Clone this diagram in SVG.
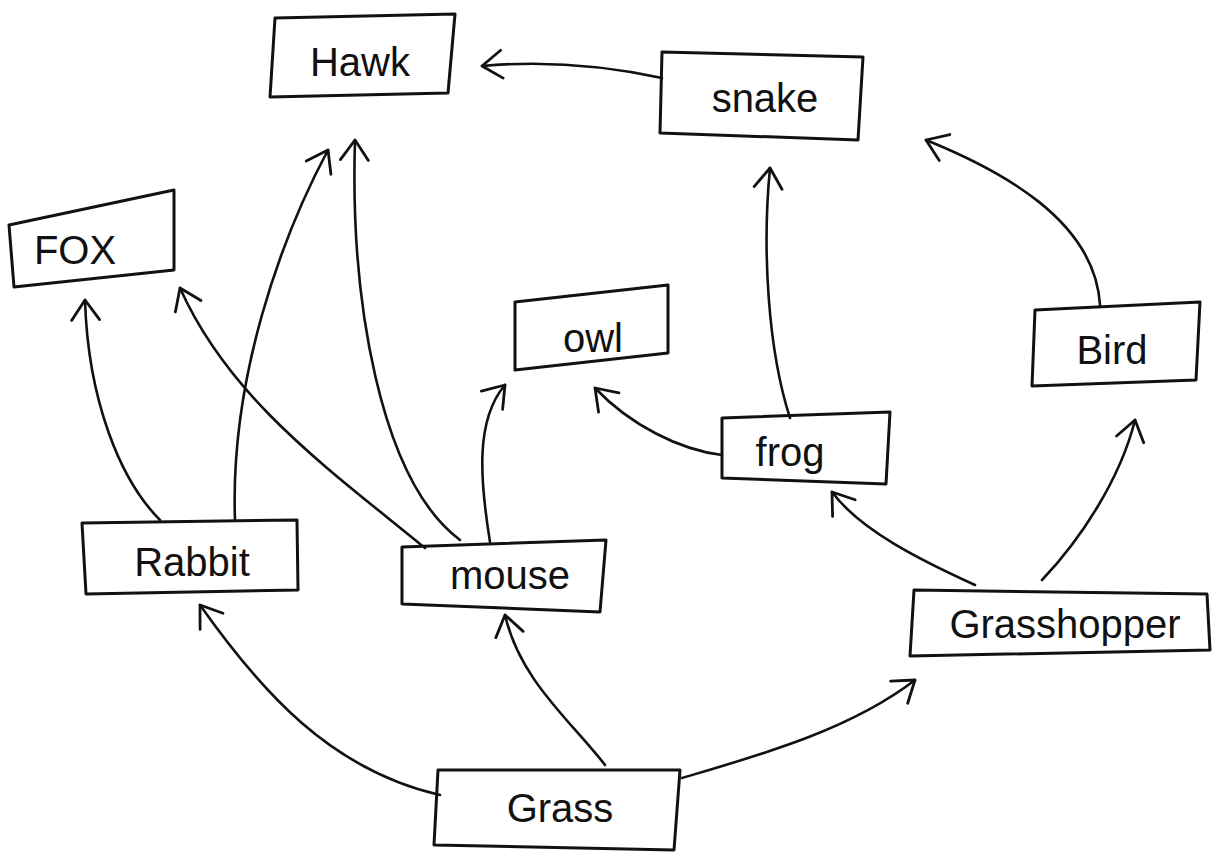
<svg xmlns="http://www.w3.org/2000/svg" width="1232" height="860" viewBox="0 0 1232 860">
<defs>
<style>
.box{fill:none;stroke:#111;stroke-width:3;stroke-linejoin:round}
.lbl{font-family:"Liberation Sans","DejaVu Sans",sans-serif;font-size:40px;fill:#111;text-anchor:middle;dominant-baseline:central}
.edge{fill:none;stroke:#111;stroke-width:2.6;stroke-linecap:round}
</style>
<marker id="arr" markerUnits="userSpaceOnUse" markerWidth="40" markerHeight="40" viewBox="-24 -20 30 40" refX="0" refY="0" orient="auto">
<path d="M -20,-14 L 0,0 L -20,14" fill="none" stroke="#111" stroke-width="2.8" stroke-linecap="round" stroke-linejoin="round"/>
</marker>
</defs>
<rect width="1232" height="860" fill="#fff"/>
<g id="connectors">
<path class="edge" marker-end="url(#arr)" d="M 662,78 Q 570,58 482,66"/>
<path class="edge" marker-end="url(#arr)" d="M 1100,305 C 1095,220 1000,170 926,140"/>
<path class="edge" marker-end="url(#arr)" d="M 790,418 C 768,350 762,250 770,168"/>
<path class="edge" marker-end="url(#arr)" d="M 722,455 C 680,450 630,425 595,388"/>
<path class="edge" marker-end="url(#arr)" d="M 975,585 C 920,560 860,530 832,492"/>
<path class="edge" marker-end="url(#arr)" d="M 1042,580 C 1080,540 1120,480 1135,420"/>
<path class="edge" marker-end="url(#arr)" d="M 682,778 C 760,755 850,730 915,680"/>
<path class="edge" marker-end="url(#arr)" d="M 605,765 C 570,720 520,680 505,615"/>
<path class="edge" marker-end="url(#arr)" d="M 440,795 C 330,770 260,690 200,605"/>
<path class="edge" marker-end="url(#arr)" d="M 160,520 C 120,480 88,400 85,300"/>
<path class="edge" marker-end="url(#arr)" d="M 235,520 C 230,380 280,240 328,150"/>
<path class="edge" marker-end="url(#arr)" d="M 425,548 C 330,470 230,400 180,288"/>
<path class="edge" marker-end="url(#arr)" d="M 460,540 C 380,480 350,300 355,140"/>
<path class="edge" marker-end="url(#arr)" d="M 490,542 C 480,480 475,420 505,385"/>
</g>
<g id="hawk"><polygon class="box" points="275,18 455,14 448,93 270,97"/><text class="lbl" x="360" y="62">Hawk</text></g>
<g id="snake"><polygon class="box" points="662,52 863,57 858,140 660,133"/><text class="lbl" x="765" y="98">snake</text></g>
<g id="fox"><polygon class="box" points="9,225 174,190 174,270 14,287"/><text class="lbl" x="75" y="250">FOX</text></g>
<g id="owl"><polygon class="box" points="515,302 668,285 668,353 515,370"/><text class="lbl" x="593" y="338">owl</text></g>
<g id="bird"><polygon class="box" points="1035,310 1200,302 1196,380 1032,386"/><text class="lbl" x="1112" y="350">Bird</text></g>
<g id="frog"><polygon class="box" points="722,418 890,412 886,484 722,478"/><text class="lbl" x="790" y="452">frog</text></g>
<g id="rabbit"><polygon class="box" points="82,523 297,520 298,590 86,594"/><text class="lbl" x="192" y="562">Rabbit</text></g>
<g id="mouse"><polygon class="box" points="402,547 606,540 600,612 402,604"/><text class="lbl" x="510" y="575">mouse</text></g>
<g id="grasshopper"><polygon class="box" points="914,590 1207,594 1210,650 910,656"/><text class="lbl" x="1065" y="624">Grasshopper</text></g>
<g id="grass"><polygon class="box" points="438,770 680,770 674,850 434,845"/><text class="lbl" x="560" y="808">Grass</text></g>
</svg>
